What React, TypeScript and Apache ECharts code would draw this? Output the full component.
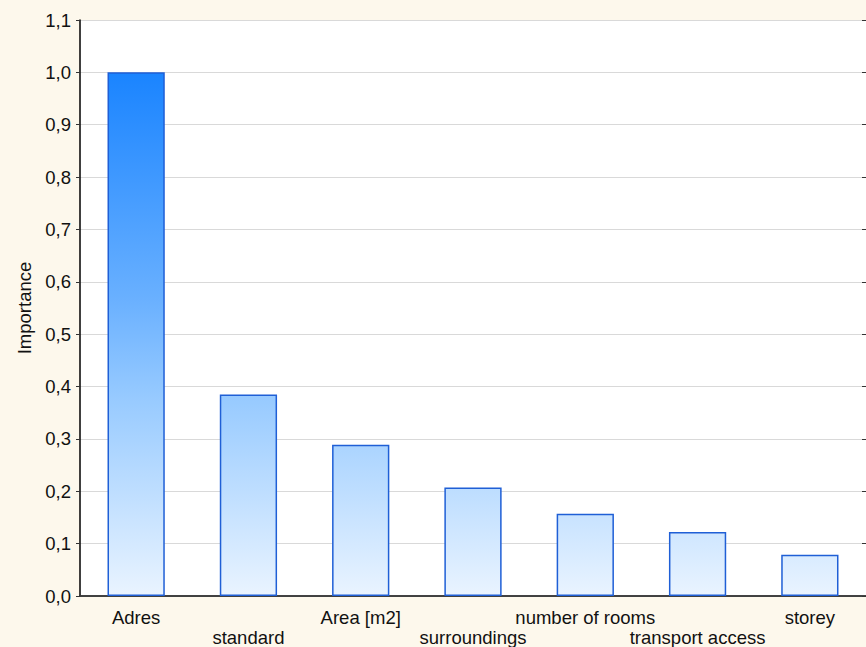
import React, { useEffect, useRef } from "react";
import * as echarts from "echarts";

const categories = ["Adres", "standard", "Area [m2]", "surroundings", "number of rooms", "transport access", "storey"];
const importance = [1.0, 0.385, 0.289, 0.207, 0.157, 0.122, 0.079];
const yAxisTitle = "Importance";

export default function App() {
  const ref = useRef<HTMLDivElement>(null);
  useEffect(() => {
    if (!ref.current) return;
    const chart = echarts.init(ref.current, undefined, { renderer: "svg" });
    const font = "'Liberation Sans', Arial, sans-serif";
    const fs = 18.5;
    const gridTop = 20;
    const gridH = 577;
    const y0 = gridTop + gridH;
    const y1 = gridTop + gridH * (0.1 / 1.1);
    const grad = new echarts.graphic.LinearGradient(0, y1, 0, y0, [
      { offset: 0, color: "#1a84ff" },
      { offset: 0.43, color: "#69b0ff" },
      { offset: 0.62, color: "#97caff" },
      { offset: 1, color: "#eaf4ff" },
    ], true);
    const fmt = (v: number) => v.toFixed(1).replace(".", ",");
    chart.setOption({
      animation: false,
      backgroundColor: "#fdf8ec",
      grid: { left: 80, top: gridTop, width: 788, height: gridH, show: true, backgroundColor: "#ffffff", borderWidth: 0 },
      xAxis: [
        {
          type: "category",
          data: categories,
          position: "bottom",
          axisLine: { lineStyle: { color: "#000", width: 1.5 } },
          axisTick: { alignWithLabel: true, inside: true, length: 4, lineStyle: { color: "#333" } },
          axisLabel: {
            color: "#111",
            fontFamily: font,
            fontSize: fs,
            margin: 11,
            lineHeight: 20,
            interval: 0,
            formatter: (v: string, i: number) => (i % 2 === 1 ? "\n" + v : v),
          },
        },
        {
          type: "category",
          data: categories,
          position: "top",
          axisLine: { lineStyle: { color: "#444", width: 1.5 } },
          axisTick: { alignWithLabel: true, inside: true, length: 4, lineStyle: { color: "#333" } },
          axisLabel: { show: false },
        },
      ],
      yAxis: [
        {
          type: "value",
          min: 0,
          max: 1.1,
          interval: 0.1,
          position: "left",
          name: yAxisTitle,
          nameLocation: "middle",
          nameGap: 46,
          nameTextStyle: { color: "#111", fontFamily: font, fontSize: fs },
          axisLine: { show: true, lineStyle: { color: "#000", width: 1.5 } },
          axisTick: { show: true, length: 4, lineStyle: { color: "#333" } },
          axisLabel: { color: "#111", fontFamily: font, fontSize: fs, margin: 9, formatter: fmt },
          splitLine: { show: true, lineStyle: { color: "#d9d9d9", width: 1 } },
        },
        {
          type: "value",
          min: 0,
          max: 1.1,
          interval: 0.1,
          position: "right",
          axisLine: { show: true, lineStyle: { color: "#444" } },
          axisTick: { show: true, inside: true, length: 4, lineStyle: { color: "#333" } },
          axisLabel: { show: false },
          splitLine: { show: false },
        },
      ],
      series: [
        {
          type: "bar",
          data: importance,
          barWidth: "51%",
          itemStyle: { color: grad, borderColor: "#1f5fd6", borderWidth: 1.5 },
        },
      ],
    });
    return () => chart.dispose();
  }, []);
  return <div ref={ref} style={{ position: "fixed", left: 0, top: 0, width: 866, height: 647 }} />;
}
